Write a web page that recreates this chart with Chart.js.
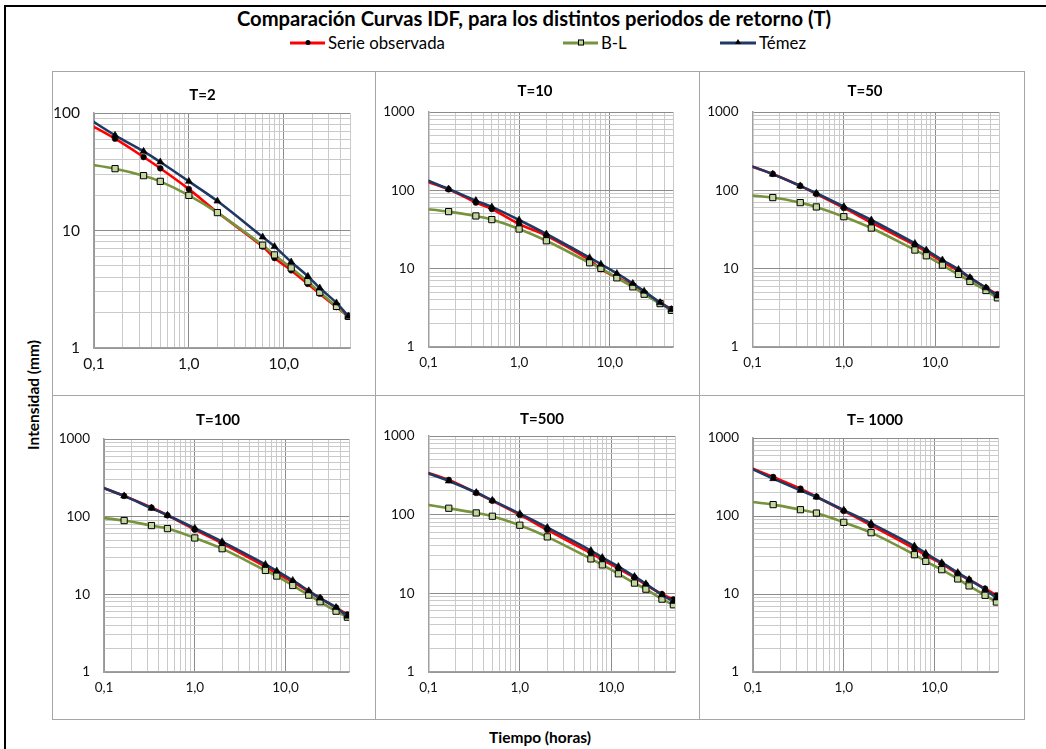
<!DOCTYPE html>
<html lang="es">
<head>
<meta charset="utf-8">
<title>Comparación Curvas IDF</title>
<script src="https://cdn.jsdelivr.net/npm/chart.js@4.4.1/dist/chart.umd.min.js"></script>
<style>
  html, body { margin: 0; padding: 0; background: #fff; }
  #page { position: relative; width: 1046px; height: 749px; overflow: hidden; font-family: Lato, "Open Sans", sans-serif; color: #000; }
  #frame { position: absolute; left: 4px; top: 5px; width: 1100px; height: 800px; border: 2px solid #000; box-sizing: border-box; }
  #titulo { position: absolute; left: 534px; top: 18px; transform: translate(-50%, -50%); font-weight: 700; font-size: 20.2px; white-space: nowrap; }
  .leg { position: absolute; top: 42px; transform: translateY(-50%); font-size: 16.8px; white-space: nowrap; display: flex; align-items: center; }
  .sw { position: relative; display: inline-block; height: 12px; margin-right: 3px; }
  .sw .ln { position: absolute; left: 0; right: 0; top: 5px; height: 3px; }
  .sw .mk { position: absolute; left: 50%; top: 50%; transform: translate(-50%, -50%); }
  .dot { width: 5px; height: 5px; border-radius: 50%; background: #000; }
  .sq { width: 4px; height: 4px; background: #C3D69B; border: 1px solid #000; }
  .tri { width: 0; height: 0; border-left: 3px solid transparent; border-right: 3px solid transparent; border-bottom: 5px solid #000; margin-top: -1px; }
  .panel { position: absolute; }
  .marco { position: absolute; border: 1px solid #A6A6A6; box-sizing: border-box; pointer-events: none; }
  #ejeY { position: absolute; left: 33px; top: 395px; transform: translate(-50%, -50%) rotate(-90deg); font-weight: 700; font-size: 15.5px; white-space: nowrap; }
  #ejeX { position: absolute; left: 540px; top: 737px; transform: translate(-50%, -50%); font-weight: 700; font-size: 15.5px; white-space: nowrap; }
</style>
</head>
<body>
<div id="page">
  <div id="frame"></div>
  <div id="titulo">Comparación Curvas IDF, para los distintos periodos de retorno (T)</div>
  <div class="leg" style="left:290px"><span class="sw" style="width:35px"><span class="ln" style="background:#FF0000"></span><span class="mk dot"></span></span>Serie observada</div>
  <div class="leg" style="left:563px"><span class="sw" style="width:35px"><span class="ln" style="background:#77933C"></span><span class="mk sq"></span></span>B-L</div>
  <div class="leg" style="left:720px"><span class="sw" style="width:36px"><span class="ln" style="background:#1F3864"></span><span class="mk tri"></span></span>Témez</div>
  <div id="paneles"></div>
  <div id="ejeY">Intensidad (mm)</div>
  <div id="ejeX">Tiempo (horas)</div>
</div>
<script>
// Duraciones (horas): 5, 10, 20, 30 min, 1, 2, 6, 8, 12, 18, 24, 36, 48 h
const duraciones = [0.0833, 0.1667, 0.3333, 0.5, 1, 2, 6, 8, 12, 18, 24, 36, 48];

// Intensidades (mm) por periodo de retorno
const observada_T2    = [82.5, 60.5, 42.2, 33.8, 22.5, 14.3, 7.3, 5.83, 4.58, 3.51, 2.90, 2.23, 1.85];
const bl_T2           = [36.8, 33.6, 29.3, 26.2, 19.9, 14.2, 7.5, 6.2, 4.8, 3.67, 2.98, 2.26, 1.86];
const temez_T2        = [92.0, 64.6, 47.2, 38.3, 26.2, 17.8, 8.8, 7.3, 5.4, 4.07, 3.24, 2.42, 1.86];

const observada_T10   = [135.5, 103, 69.7, 57.8, 37.2, 26.4, 12.9, 9.86, 7.71, 6.15, 4.91, 3.69, 3.06];
const bl_T10          = [58.7, 53.5, 47.1, 42.3, 32.1, 22.7, 11.9, 10.1, 7.64, 5.86, 4.72, 3.58, 2.94];
const temez_T10       = [143.8, 104, 74.0, 61.4, 41.8, 27.7, 13.8, 11.4, 8.68, 6.47, 5.16, 3.69, 3.0];

const observada_T50   = [215.6, 162, 114, 90.0, 59.6, 38.7, 20.0, 16.4, 12.2, 9.4, 7.65, 5.7, 4.72];
const bl_T50          = [87.5, 80.8, 69.7, 61.4, 46.1, 33.0, 17.3, 14.6, 11.1, 8.43, 6.86, 5.26, 4.24];
const temez_T50       = [217.5, 161, 114, 91.8, 62.0, 41.8, 21.0, 17.3, 12.9, 9.77, 7.7, 5.69, 4.49];

const observada_T100  = [253, 185, 131, 104, 68.1, 45.4, 22.7, 18.6, 14.5, 10.8, 8.9, 6.74, 5.5];
const bl_T100         = [97.9, 89.1, 76.8, 70.2, 53.2, 38.7, 20.3, 17.2, 13.0, 9.77, 8.02, 6.07, 5.08];
const temez_T100      = [253, 185, 128.5, 104.4, 71.0, 47.7, 24.3, 20.0, 15.1, 11.1, 8.94, 6.77, 5.23];

const observada_T500  = [363, 276, 189, 150, 99.3, 64.1, 32.4, 26.7, 20.7, 15.9, 12.8, 9.77, 8.36];
const bl_T500         = [137.6, 120.7, 105.2, 95.5, 73.4, 52.2, 27.4, 23.0, 17.7, 13.5, 11.3, 8.44, 7.15];
const temez_T500      = [359.6, 268, 191, 152, 103, 68.6, 35.0, 28.5, 21.9, 16.4, 13.2, 9.57, 7.88];

const observada_T1000 = [441, 316, 224, 177, 116, 75.9, 38.1, 31.3, 24.5, 18.2, 15.3, 11.7, 9.62];
const bl_T1000        = [155, 140, 120.5, 109, 82.9, 61.1, 31.9, 26.2, 20.5, 15.6, 12.7, 9.62, 7.89];
const temez_T1000     = [437, 301, 213, 175, 119, 80.5, 41.2, 33.2, 25.2, 18.8, 15.3, 11.4, 8.89];

const titulosPanel = ['T=2', 'T=10', 'T=50', 'T=100', 'T=500', 'T= 1000'];
const nombresSeries = ['Serie observada', 'B-L', 'Témez'];

// Marcas de los ejes
const xMarcas = [0.1, 1, 10];
const xEtiquetas = ['0,1', '1,0', '10,0'];
const xMin = 0.1, xMax = 50;
const yMarcas = [1, 10, 100, 1000];
const yEtiquetas = ['1', '10', '100', '1000'];
const yMaxPanel = [100, 1000, 1000, 1000, 1000, 1000];

const valoresPanel = [
  [observada_T2, bl_T2, temez_T2],
  [observada_T10, bl_T10, temez_T10],
  [observada_T50, bl_T50, temez_T50],
  [observada_T100, bl_T100, temez_T100],
  [observada_T500, bl_T500, temez_T500],
  [observada_T1000, bl_T1000, temez_T1000]
];

// Disposición de cada gráfico: caja, márgenes del área de trazado y centro del título
const columnas = [52, 375, 699, 1024];
const filas = [71, 395, 719];
const disposicion = [
  { c: 0, f: 0, l: 42, t: 42, r: 25, b: 47, tx: 150.5, ty: 24, fuente: 15.5 },
  { c: 1, f: 0, l: 53.5, t: 41, r: 26, b: 48, tx: 160, ty: 20, fuente: 13.5 },
  { c: 2, f: 0, l: 53.5, t: 41, r: 25, b: 48, tx: 166, ty: 20, fuente: 13.5 },
  { c: 0, f: 1, l: 52, t: 44, r: 26, b: 47, tx: 166, ty: 25, fuente: 13.5 },
  { c: 1, f: 1, l: 53.5, t: 41, r: 24, b: 47, tx: 167, ty: 24, fuente: 13.5 },
  { c: 2, f: 1, l: 54, t: 43, r: 26, b: 47, tx: 176, ty: 25, fuente: 13.5 }
];

const estilos = [
  { borderColor: '#FF0000', pointStyle: 'circle', pointRadius: 2.9, pointBackgroundColor: '#000', pointBorderColor: '#3a0000', pointBorderWidth: 0.6, order: 2 },
  { borderColor: '#77933C', pointStyle: 'rect', pointRadius: 4.4, pointBackgroundColor: '#C3D69B', pointBorderColor: '#000', pointBorderWidth: 1, order: 1 },
  { borderColor: '#1F3864', pointStyle: 'triangle', pointRadius: 4.0, pointBackgroundColor: '#000', pointBorderColor: '#000', pointBorderWidth: 0.6, order: 0 }
];

// Valores de la retícula logarítmica: 1..9 veces cada potencia de diez
function reticula(min, max) {
  const v = [];
  for (let d = min; d < max * 1.0001; d *= 10) {
    for (let k = 1; k <= 9; k++) {
      const val = +(k * d).toPrecision(6);
      if (val >= min * 0.9999 && val <= max * 1.0001) v.push(val);
    }
  }
  return v;
}
function indiceMarca(lista, valor) {
  return lista.findIndex(m => Math.abs(m - valor) / m < 1e-6);
}

// Título de cada gráfico, colocado en un punto fijo del lienzo
const tituloPanel = {
  id: 'tituloPanel',
  afterDraw(chart, args, opts) {
    const c = chart.ctx;
    c.save();
    c.font = opts.font;
    c.fillStyle = '#000';
    c.textAlign = 'center';
    c.textBaseline = 'middle';
    c.fillText(opts.text, opts.x, opts.y);
    c.restore();
  }
};

const contenedor = document.getElementById('paneles');

disposicion.forEach((d, i) => {
  const left = columnas[d.c], top = filas[d.f];
  const W = columnas[d.c + 1] - left;
  const H = filas[d.f + 1] - top;

  const canvas = document.createElement('canvas');
  canvas.className = 'panel';
  canvas.width = W; canvas.height = H;
  canvas.style.left = left + 'px'; canvas.style.top = top + 'px';
  canvas.style.width = W + 'px'; canvas.style.height = H + 'px';
  contenedor.appendChild(canvas);

  const marco = document.createElement('div');
  marco.className = 'marco';
  marco.style.left = left + 'px'; marco.style.top = top + 'px';
  marco.style.width = (W + 1) + 'px'; marco.style.height = (H + 1) + 'px';
  contenedor.appendChild(marco);

  const yMax = yMaxPanel[i];

  const datasets = valoresPanel[i].map((vals, s) => Object.assign({
    label: nombresSeries[s],
    data: duraciones.map((x, k) => ({ x: x, y: vals[k] })),
    borderWidth: 2.6,
    tension: 0.35,
    fill: false
  }, estilos[s]));

  new Chart(canvas, {
    type: 'line',
    data: { datasets: datasets },
    plugins: [tituloPanel],
    options: {
      responsive: false,
      animation: false,
      events: [],
      layout: { padding: { left: 0, right: d.r, top: d.t, bottom: 0 } },
      plugins: {
        legend: { display: false },
        tooltip: { enabled: false },
        title: { display: false },
        tituloPanel: { text: titulosPanel[i], x: d.tx, y: d.ty, font: 'bold 15px Lato' }
      },
      scales: {
        x: {
          type: 'logarithmic',
          min: xMin, max: xMax,
          afterBuildTicks: eje => { eje.ticks = reticula(xMin, xMax).map(v => ({ value: v })); },
          afterFit: eje => { eje.height = d.b; },
          ticks: {
            autoSkip: false, maxRotation: 0, minRotation: 0,
            padding: d.fuente > 15 ? 7 : 8,
            color: '#111',
            font: { family: 'Lato', size: d.fuente },
            callback: v => { const j = indiceMarca(xMarcas, v); return j >= 0 ? xEtiquetas[j] : ''; }
          },
          grid: {
            drawTicks: false,
            lineWidth: 1,
            color: ctx => indiceMarca(xMarcas, ctx.tick.value) >= 0 ? '#8C8C8C' : '#CACACA'
          },
          border: { display: true, color: '#A0A0A0', width: 1.5 }
        },
        y: {
          type: 'logarithmic',
          min: 1, max: yMax,
          afterBuildTicks: eje => { eje.ticks = reticula(1, yMax).map(v => ({ value: v })); },
          afterFit: eje => { eje.width = d.l; },
          ticks: {
            autoSkip: false,
            padding: 14,
            color: '#111',
            font: { family: 'Lato', size: d.fuente },
            callback: v => { const j = indiceMarca(yMarcas, v); return j >= 0 ? yEtiquetas[j] : ''; }
          },
          grid: {
            drawTicks: false,
            lineWidth: 1,
            color: ctx => indiceMarca(yMarcas, ctx.tick.value) >= 0 ? '#8C8C8C' : '#CACACA'
          },
          border: { display: true, color: '#A0A0A0', width: 1.5 }
        }
      }
    }
  });
});
</script>
</body>
</html>
